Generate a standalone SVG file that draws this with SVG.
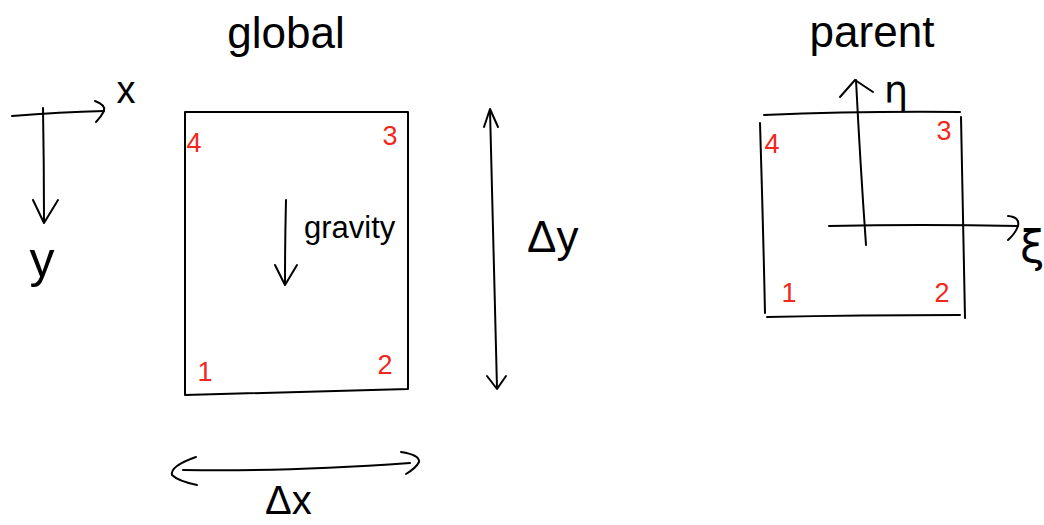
<svg xmlns="http://www.w3.org/2000/svg" width="1044" height="525" viewBox="0 0 1044 525">
<style>
.ln{fill:none;stroke:#000;stroke-width:2;stroke-linecap:round;stroke-linejoin:round}
.t{font-family:"Liberation Sans","DejaVu Sans",sans-serif;fill:#000}
.r{font-family:"Liberation Sans","DejaVu Sans",sans-serif;fill:#f0281e;font-size:27px}
.g{font-family:"DejaVu Sans","Liberation Sans",sans-serif;fill:#000}
</style>
<rect width="1044" height="525" fill="#fff"/>
<g id="title-global"><text class="t" x="286" y="48" font-size="44" text-anchor="middle">global</text></g>
<g id="title-parent"><text class="t" x="872" y="47" font-size="44" text-anchor="middle">parent</text></g>
<g id="global-box">
<path class="ln" d="M185,112 L408,112 L408,389 L185,395 Z"/>
<text class="r" x="194" y="152" text-anchor="middle">4</text>
<text class="r" x="390" y="145" text-anchor="middle">3</text>
<text class="r" x="205" y="381" text-anchor="middle">1</text>
<text class="r" x="385" y="374" text-anchor="middle">2</text>
</g>
<g id="gravity-label"><text class="t" x="304" y="238" font-size="31">gravity</text></g>
<g id="global-axis-labels">
<text class="t" x="126" y="103" font-size="38" text-anchor="middle">x</text>
<text class="t" x="42" y="277" font-size="50" text-anchor="middle">y</text>
</g>
<g id="dy-label"><text class="t" x="527" y="252" font-size="44">Δy</text></g>
<g id="dx-label"><text class="t" x="265" y="514" font-size="40">Δx</text></g>
<g id="parent-box">
<path class="ln" d="M764,115 Q860,111 960,112"/>
<path class="ln" d="M760,123 Q763,220 765,313"/>
<path class="ln" d="M767,317 Q860,315 960,315"/>
<path class="ln" d="M961,117 Q963,220 965,318"/>
<text class="r" x="772" y="153" text-anchor="middle">4</text>
<text class="r" x="944" y="140" text-anchor="middle">3</text>
<text class="r" x="789" y="302" text-anchor="middle">1</text>
<text class="r" x="942" y="302" text-anchor="middle">2</text>
</g>
<g id="parent-axis-labels">
<text class="g" x="896" y="103" font-size="38" text-anchor="middle">η</text>
<text class="g" x="1020" y="262" font-size="44">ξ</text>
</g>
<g id="connectors">
<path class="ln" d="M12,116 Q60,112 104,111"/>
<path class="ln" d="M95,101 Q106,105 104,111 Q101,117 96,122"/>
<path class="ln" d="M43,108 Q44,165 44,222"/>
<path class="ln" d="M33,200 L44,223 L58,200"/>
<path class="ln" d="M286,200 Q285,240 285,283"/>
<path class="ln" d="M275,265 L285,285 L297,265"/>
<path class="ln" d="M490,110 Q494,250 497,388"/>
<path class="ln" d="M484,127 L490,109 L498,127"/>
<path class="ln" d="M487,376 L497,389 L506,376"/>
<path class="ln" d="M183,470 Q280,472 410,463"/>
<path class="ln" d="M196,457 Q170,466 172,475 Q178,481 197,485"/>
<path class="ln" d="M401,452 Q420,455 419,462 Q416,468 406,474"/>
<path class="ln" d="M866,245 Q860,160 856,80"/>
<path class="ln" d="M840,97 L855,80 L873,92"/>
<path class="ln" d="M829,226 Q920,224 1018,226"/>
<path class="ln" d="M1008,216 Q1020,217 1018,226 Q1015,234 1008,240"/>
</g>
</svg>
